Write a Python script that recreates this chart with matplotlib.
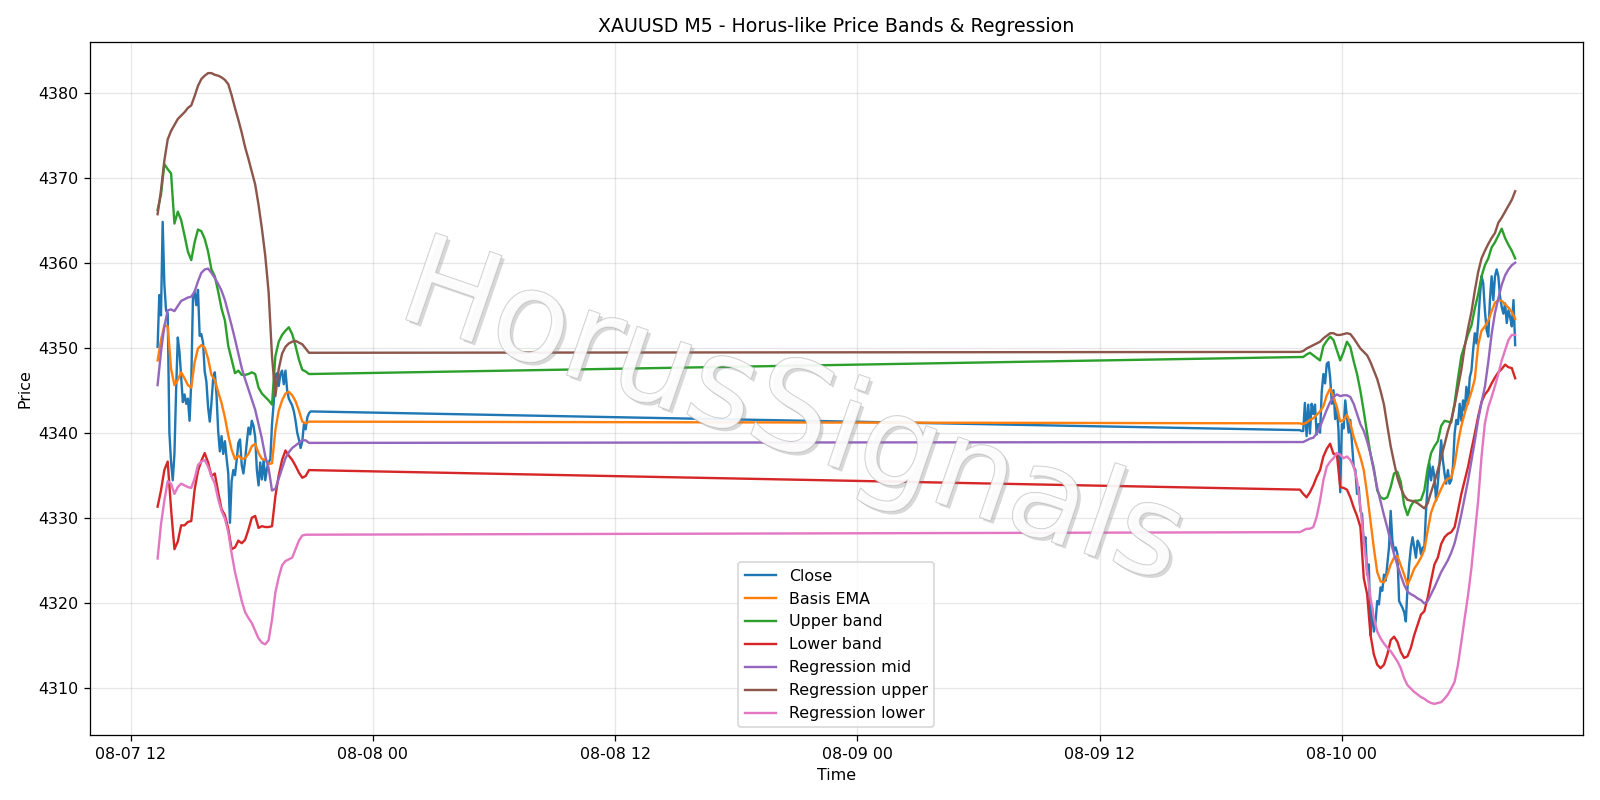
import numpy as np
import pandas as pd
import matplotlib
matplotlib.use("Agg")
from matplotlib import pyplot as plt
import matplotlib.dates as mdates
import matplotlib.patheffects as pe

t5 = pd.date_range("2025-08-07 13:20", "2025-08-07 20:55", freq="5min").append(
    pd.date_range("2025-08-09 21:55", "2025-08-10 08:35", freq="5min"))
t10 = pd.date_range("2025-08-07 13:20", "2025-08-07 20:50", freq="10min").append(
    pd.date_range("2025-08-09 21:55", "2025-08-10 08:35", freq="10min"))

close_1 = [4350.1, 4356.2, 4353.8, 4364.8, 4357.5, 4354.4, 4354.0, 4340.0, 4336.5, 4334.4,
           4337.5, 4345.0, 4351.2, 4349.5, 4346.5, 4343.6, 4344.5, 4343.4, 4344.0, 4341.4,
           4346.0, 4355.8, 4356.6, 4355.0, 4356.8, 4351.4, 4351.6, 4350.6, 4347.2, 4346.0,
           4343.0, 4341.3, 4343.5, 4346.3, 4347.1, 4344.5, 4340.2, 4337.8, 4339.6, 4337.5,
           4339.0, 4337.0, 4335.2, 4329.4, 4334.3, 4335.6, 4335.0, 4336.8, 4338.8, 4339.2,
           4336.2, 4335.2, 4336.8, 4338.8, 4340.6, 4339.8, 4341.4, 4340.8, 4339.5, 4335.6,
           4333.8, 4336.5, 4334.5, 4336.8, 4334.4, 4335.8, 4336.5, 4336.9, 4341.0, 4343.5,
           4346.8, 4347.0, 4345.5, 4346.9, 4347.3, 4345.7, 4347.3, 4345.0, 4344.0, 4343.6,
           4343.2, 4342.5, 4341.4, 4340.0, 4339.2, 4338.2, 4339.0, 4341.0, 4340.4, 4341.8,
           4342.3, 4342.5]
close_2 = [4340.3, 4340.2, 4340.2, 4343.5, 4339.6, 4343.3, 4339.9, 4343.4, 4342.2, 4343.3,
           4339.8, 4341.0, 4340.0, 4344.8, 4346.9, 4345.8, 4348.1, 4348.3, 4346.5, 4343.4,
           4345.0, 4341.6, 4343.0, 4340.2, 4333.0, 4341.0, 4340.5, 4343.8, 4341.8, 4340.0,
           4341.5, 4338.7, 4336.0, 4335.6, 4332.8, 4333.6, 4330.8, 4330.4, 4326.9, 4327.7,
           4323.3, 4324.5, 4316.2, 4319.4, 4316.6, 4317.8, 4320.2, 4319.8, 4321.8, 4321.4,
           4323.3, 4322.6, 4324.5, 4326.5, 4330.8, 4327.3, 4326.1, 4326.5, 4325.7, 4320.2,
           4319.8, 4319.4, 4318.9, 4317.8, 4321.8, 4324.5, 4326.5, 4327.7, 4326.5, 4325.3,
           4327.3, 4326.9, 4325.7, 4326.5, 4326.5, 4330.8, 4334.0, 4336.4, 4334.4, 4336.0,
           4334.8, 4332.0, 4334.0, 4336.4, 4339.1, 4336.8, 4335.2, 4334.0, 4335.6, 4334.0,
           4334.4, 4336.0, 4339.9, 4341.5, 4341.0, 4343.4, 4341.4, 4343.8, 4342.6, 4345.4,
           4343.4, 4346.5, 4347.3, 4349.7, 4351.7, 4350.5, 4352.9, 4356.0, 4358.4, 4357.6,
           4354.4, 4352.1, 4351.3, 4355.6, 4358.4, 4355.6, 4358.4, 4359.2, 4358.4, 4356.0,
           4354.8, 4354.0, 4355.2, 4352.9, 4354.4, 4353.6, 4352.5, 4355.6, 4350.3]

ema_1 = [4348.5, 4350.9, 4352.6, 4352.5, 4347.5, 4345.6, 4346.2, 4347.1, 4346.4, 4345.6,
         4345.3, 4348.3, 4349.9, 4350.3, 4350.0, 4348.7, 4346.8, 4346.2, 4344.8, 4343.5,
         4341.8, 4339.7, 4338.0, 4336.9, 4337.3, 4336.9, 4337.0, 4337.5, 4338.4, 4338.7,
         4337.6, 4336.9, 4336.8, 4336.3, 4336.4, 4340.3, 4342.6, 4343.8, 4344.6, 4344.8,
         4344.4, 4343.7, 4342.6, 4341.3, 4341.1, 4341.3]
ema_2 = [4341.1, 4341.0, 4341.2, 4341.5, 4341.7, 4342.1, 4342.5, 4343.1, 4344.4, 4345.2,
         4344.2, 4343.0, 4341.3, 4341.5, 4342.1, 4341.1, 4339.5, 4338.3, 4337.1, 4335.6,
         4332.8, 4329.6, 4326.4, 4323.6, 4322.5, 4322.4, 4323.3, 4324.5, 4325.3, 4325.5,
         4324.4, 4323.3, 4322.1, 4323.0, 4324.0, 4324.6, 4325.3, 4326.2, 4328.5, 4330.6,
         4331.7, 4332.5, 4333.4, 4334.2, 4334.6, 4334.7, 4336.3, 4338.8, 4340.8, 4342.3,
         4343.6, 4344.8, 4346.3, 4350.3, 4352.0, 4352.5, 4353.2, 4354.3, 4355.3, 4355.6,
         4355.5, 4355.1, 4354.7, 4354.2, 4353.4]

upper_1 = [4366.2, 4368.0, 4371.6, 4371.0, 4370.5, 4364.6, 4366.0, 4365.0, 4363.2, 4361.3,
           4360.3, 4362.4, 4363.9, 4363.7, 4362.8, 4361.3, 4359.2, 4358.4, 4356.6, 4354.6,
           4353.2, 4350.2, 4348.6, 4347.0, 4347.3, 4346.8, 4346.8, 4346.9, 4347.1, 4346.9,
           4345.3, 4344.6, 4344.2, 4343.8, 4343.3, 4349.0, 4350.7, 4351.5, 4352.0, 4352.4,
           4351.6, 4350.2, 4348.6, 4347.4, 4347.2, 4346.9]
upper_2 = [4348.9, 4348.9, 4349.2, 4349.4, 4349.1, 4348.8, 4348.5, 4350.2, 4350.8, 4351.3,
           4350.9, 4349.7, 4348.5, 4349.5, 4350.7, 4350.1, 4348.4, 4346.9, 4344.9, 4342.5,
           4339.9, 4337.5, 4335.8, 4333.2, 4332.4, 4332.2, 4332.4, 4333.6, 4335.2, 4335.4,
           4334.2, 4331.5, 4330.3, 4331.4, 4332.0, 4332.0, 4332.1, 4333.2, 4335.8, 4337.6,
           4338.4, 4339.0, 4340.8, 4341.4, 4341.3, 4341.2, 4343.5, 4346.4, 4349.0, 4350.3,
           4351.6, 4352.6, 4354.6, 4356.3, 4358.4, 4359.7, 4360.5, 4361.8, 4362.4, 4363.2,
           4364.0, 4362.9, 4362.1, 4361.4, 4360.5]

lower_1 = [4331.3, 4333.2, 4335.6, 4336.6, 4331.0, 4326.3, 4327.2, 4329.1, 4329.1, 4329.5,
           4329.6, 4333.3, 4335.5, 4336.7, 4337.6, 4336.5, 4334.9, 4335.2, 4333.0, 4331.0,
           4330.3, 4328.7, 4326.3, 4326.5, 4327.3, 4327.0, 4327.4, 4328.6, 4330.0, 4330.2,
           4328.8, 4329.0, 4328.9, 4328.9, 4329.0, 4332.5, 4335.0, 4336.8, 4337.9, 4337.3,
           4336.8, 4336.1, 4335.3, 4334.7, 4334.9, 4335.6]
lower_2 = [4333.3, 4332.8, 4332.4, 4333.0, 4333.8, 4334.8, 4335.6, 4337.2, 4338.1, 4338.7,
           4337.5, 4337.5, 4333.6, 4333.5, 4333.3, 4332.4, 4331.2, 4330.2, 4328.9, 4322.9,
           4321.0, 4316.2, 4313.9, 4312.7, 4312.3, 4312.7, 4313.9, 4315.6, 4316.0, 4315.4,
           4314.2, 4313.5, 4313.7, 4314.7, 4316.2, 4317.4, 4318.6, 4319.0, 4320.6, 4322.6,
           4324.5, 4325.3, 4326.9, 4327.7, 4328.1, 4328.3, 4328.9, 4330.8, 4332.8, 4334.4,
           4336.0, 4338.0, 4339.9, 4341.9, 4343.6, 4344.5, 4345.0, 4345.8, 4346.5, 4347.1,
           4347.5, 4348.0, 4347.7, 4347.6, 4346.4]

reg_mid_1 = [4345.6, 4349.5, 4352.5, 4354.4, 4354.5, 4354.3, 4354.9, 4355.5, 4355.7, 4355.9,
             4356.0, 4356.6, 4357.8, 4358.8, 4359.2, 4359.3, 4358.8, 4358.2, 4357.5, 4356.7,
             4355.6, 4354.1, 4352.6, 4351.0, 4349.3, 4347.6, 4346.3, 4345.1, 4343.9, 4342.7,
             4341.0, 4339.3, 4337.2, 4335.8, 4333.2, 4333.4, 4334.6, 4335.8, 4337.0, 4337.7,
             4338.2, 4338.5, 4338.8, 4339.1, 4339.1, 4338.8]
reg_mid_2 = [4338.9, 4338.9, 4339.1, 4339.3, 4339.4, 4339.9, 4340.7, 4341.7, 4342.7, 4343.6,
             4344.2, 4344.5, 4344.3, 4344.4, 4344.4, 4344.2, 4343.4, 4342.2, 4341.0, 4340.2,
             4339.0, 4337.5, 4335.5, 4333.5, 4331.9, 4330.3, 4328.8, 4327.2, 4325.7, 4324.4,
             4323.2, 4322.1, 4321.3, 4321.0, 4320.8, 4320.5, 4320.3, 4319.9, 4320.2, 4321.0,
             4321.8, 4322.7, 4323.6, 4324.3, 4325.0, 4325.9, 4327.0, 4328.6, 4330.4, 4332.4,
             4334.4, 4336.7, 4339.0, 4341.5, 4343.6, 4345.4, 4348.3, 4351.6, 4354.1, 4355.8,
             4357.4, 4358.5, 4359.2, 4359.7, 4360.0]

reg_up_1 = [4365.7, 4368.5, 4372.0, 4374.5, 4375.5, 4376.2, 4376.9, 4377.3, 4377.7, 4378.2,
            4378.5, 4379.6, 4380.8, 4381.6, 4382.0, 4382.3, 4382.3, 4382.1, 4382.0, 4381.8,
            4381.5, 4381.0, 4379.7, 4378.2, 4376.8, 4375.3, 4373.6, 4372.2, 4370.7, 4369.2,
            4366.8, 4364.0, 4360.8, 4356.5, 4349.0, 4344.3, 4347.5, 4349.3, 4350.1, 4350.5,
            4350.7, 4350.8, 4350.6, 4350.4, 4349.9, 4349.4]
reg_up_2 = [4349.5, 4349.6, 4349.9, 4350.1, 4350.3, 4350.5, 4350.7, 4351.1, 4351.4, 4351.7,
            4351.7, 4351.5, 4351.5, 4351.6, 4351.7, 4351.6, 4351.1, 4350.5, 4349.9, 4349.5,
            4349.1, 4348.3, 4347.3, 4346.3, 4344.9, 4343.3, 4340.8, 4338.4, 4336.5, 4334.7,
            4333.5, 4332.6, 4332.1, 4332.0, 4331.9, 4331.7, 4331.4, 4331.1, 4331.7, 4333.0,
            4334.2, 4335.6, 4337.1, 4338.6, 4340.2, 4341.5, 4343.2, 4345.3, 4347.4, 4350.1,
            4352.3, 4354.2, 4356.7, 4358.9, 4360.5, 4361.4, 4362.2, 4362.9, 4363.5, 4364.7,
            4365.3, 4366.0, 4366.7, 4367.4, 4368.4]

reg_lo_1 = [4325.2, 4329.2, 4332.0, 4334.3, 4334.0, 4332.8, 4333.6, 4334.0, 4333.8, 4333.6,
            4333.5, 4334.6, 4336.2, 4336.6, 4336.8, 4336.0, 4334.9, 4334.0, 4332.2, 4330.8,
            4329.9, 4328.3, 4325.8, 4323.6, 4321.9, 4320.2, 4318.9, 4318.2, 4317.6, 4316.7,
            4315.8, 4315.3, 4315.1, 4315.6, 4318.0, 4321.2, 4323.0, 4324.4, 4324.9, 4325.1,
            4325.3, 4326.3, 4327.3, 4327.9, 4328.0, 4328.0]
reg_lo_2 = [4328.3, 4328.5, 4328.7, 4328.7, 4328.9, 4330.1, 4332.0, 4334.4, 4336.0, 4336.6,
            4337.0, 4337.6, 4337.4, 4337.0, 4337.2, 4336.8, 4336.0, 4334.4, 4331.2, 4327.3,
            4323.7, 4320.6, 4318.2, 4316.6, 4315.8, 4315.2, 4314.7, 4314.3, 4313.7, 4313.1,
            4312.3, 4311.1, 4310.3, 4309.9, 4309.5, 4309.2, 4308.9, 4308.7, 4308.4, 4308.2,
            4308.1, 4308.2, 4308.3, 4308.7, 4309.2, 4309.9, 4310.7, 4312.7, 4315.4, 4318.2,
            4320.9, 4324.1, 4328.1, 4332.0, 4337.2, 4341.1, 4343.0, 4344.2, 4345.5, 4346.9,
            4348.5, 4349.7, 4350.9, 4351.5, 4351.5]

fig, ax = plt.subplots(figsize=(14, 7), dpi=114.3)

ax.plot(t5, close_1 + close_2, label="Close")
ax.plot(t10, ema_1 + ema_2, label="Basis EMA")
ax.plot(t10, upper_1 + upper_2, label="Upper band")
ax.plot(t10, lower_1 + lower_2, label="Lower band")
ax.plot(t10, reg_mid_1 + reg_mid_2, label="Regression mid")
ax.plot(t10, reg_up_1 + reg_up_2, label="Regression upper")
ax.plot(t10, reg_lo_1 + reg_lo_2, label="Regression lower")

ax.set_title("XAUUSD M5 - Horus-like Price Bands & Regression")
ax.set_xlabel("Time")
ax.set_ylabel("Price")
ax.grid(True, alpha=0.3)
ax.legend(loc="lower center")

ax.xaxis.set_major_locator(mdates.HourLocator(byhour=[0, 12]))
ax.xaxis.set_major_formatter(mdates.DateFormatter("%m-%d %H"))

plt.tight_layout()

# watermark
fig.text(0.495, 0.48, "HorusSignals", fontsize=79, color="white", alpha=0.7,
         rotation=-19, ha="center", va="center", rotation_mode="anchor",
         path_effects=[pe.SimplePatchShadow(offset=(2, -2), shadow_rgbFace="gray", alpha=0.3),
                       pe.Stroke(linewidth=0.9, foreground="#b4b4b4"),
                       pe.Normal()])

plt.savefig("out.png", dpi=114.3)
